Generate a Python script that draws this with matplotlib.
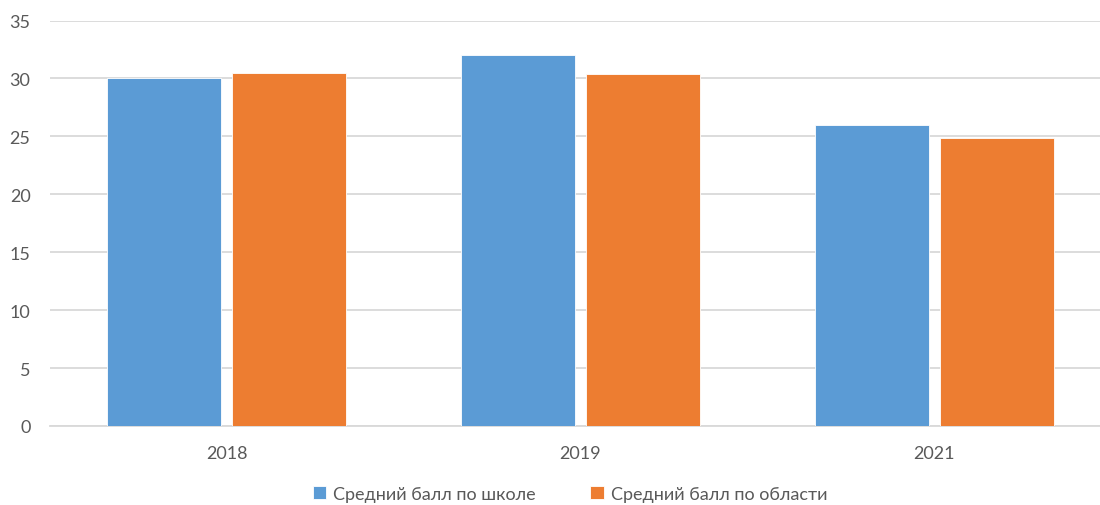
import matplotlib
matplotlib.use("Agg")
import matplotlib.pyplot as plt
import numpy as np

years = ["2018", "2019", "2021"]
school = [30.0, 32.0, 26.0]
region = [30.5, 30.4, 24.9]
series_names = ["Средний балл по школе", "Средний балл по области"]

blue = "#5B9BD5"
orange = "#ED7D31"
grid_c = "#D9D9D9"
text_c = "#595959"

plt.rcParams['font.family'] = ['Lato', 'DejaVu Sans']

fig = plt.figure(figsize=(11, 5.06), dpi=100)
ax = fig.add_axes([50 / 1100, 79 / 506, 1061 / 1100, 405.5 / 506])

x = np.arange(len(years))
w = 0.322
off = 0.1766
b1 = ax.bar(x - off, school, w, color=blue, edgecolor="white", linewidth=0.6, label=series_names[0], zorder=3)
b2 = ax.bar(x + off, region, w, color=orange, edgecolor="white", linewidth=0.6, label=series_names[1], zorder=3)

ax.set_xlim(-0.5, 2.5)
ax.set_ylim(0, 35)
ax.set_yticks(range(0, 36, 5))
ax.set_xticks(x)
ax.set_xticklabels(years)
ax.grid(axis="y", color=grid_c, linewidth=1.3, zorder=0)
ax.set_axisbelow(True)
for s in ["top", "right", "left"]:
    ax.spines[s].set_visible(False)
ax.spines["bottom"].set_color(grid_c)
ax.spines["bottom"].set_linewidth(1.3)
ax.tick_params(axis="both", length=0, labelsize=13, colors=text_c)
ax.tick_params(axis="y", pad=14)
ax.tick_params(axis="x", pad=14)

fig.legend(handles=[b1, b2], labels=series_names, loc="center",
           bbox_to_anchor=(570 / 1100, 11 / 506), ncol=2, frameon=False,
           fontsize=13, labelcolor=text_c, handlelength=0.75, handleheight=0.75,
           handletextpad=0.4, columnspacing=3.0)

fig.savefig("out.png", dpi=100)
